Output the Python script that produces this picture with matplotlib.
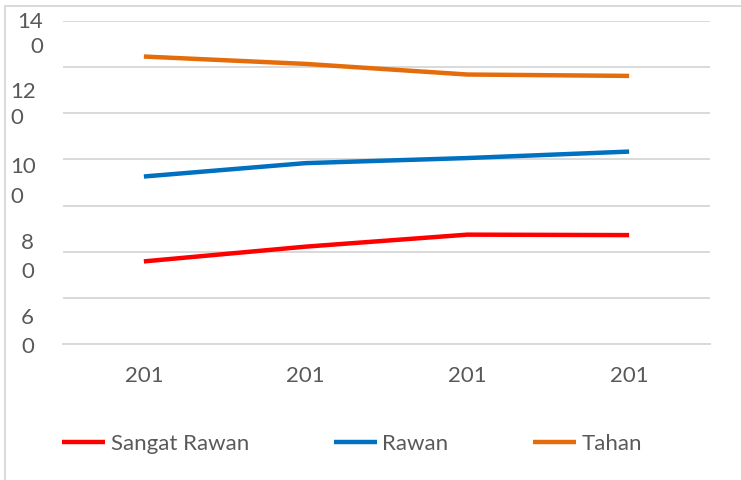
import numpy as np
import matplotlib.pyplot as plt
from matplotlib.lines import Line2D

# data
years = ["201", "201", "201", "201"]
sangat_rawan = [87.9, 91.1, 93.7, 93.6]
rawan = [106.3, 109.2, 110.3, 111.7]
tahan = [132.3, 130.7, 128.4, 128.1]
y_labels = ["14\n0", "12\n0", "10\n0", "8\n0", "6\n0"]

W, H = 741, 480
txt = "#595959"
grid = "#D9D9D9"
fs = 16
plt.rcParams['font.family'] = ['Lato', 'DejaVu Sans']

fig = plt.figure(figsize=(W / 100, H / 100), dpi=100)

def px(x, y):
    return x / W, 1 - y / H

ax = fig.add_axes([63 / W, 1 - 344 / H, (710 - 63) / W, (344 - 21) / H])
x = np.arange(len(years))
ax.plot(x, sangat_rawan, color="#FF0000", lw=3.2, label="Sangat Rawan", solid_capstyle="butt")
ax.plot(x, rawan, color="#0070C0", lw=3.2, label="Rawan", solid_capstyle="butt")
ax.plot(x, tahan, color="#E46C0A", lw=3.2, label="Tahan", solid_capstyle="butt")

ax.set_xlim(-0.5, 3.5)
ax.set_ylim(70, 140)
ax.set_yticks(np.arange(70, 141, 10))
ax.set_yticklabels([])
ax.yaxis.grid(True, color=grid, lw=1.4)
ax.set_axisbelow(True)
for s in ["left", "right", "top"]:
    ax.spines[s].set_visible(False)
ax.spines["bottom"].set_color(grid)
ax.spines["bottom"].set_linewidth(1.4)
ax.tick_params(axis="both", length=0)
ax.set_xticks(x)
ax.set_xticklabels(years, color=txt, fontsize=fs)
ax.tick_params(axis="x", pad=16)

# wrapped y labels (as drawn in the source)
spots = [(43, "right", 22, 47), (10, "left", 92, 118), (10, "left", 167, 197),
         (34, "right", 243, 272), (34, "right", 318, 347)]
for lab, (xx, ha, y1, y2) in zip(y_labels, spots):
    top, bot = lab.split("\n")
    fig.text(*px(xx, y1), top, ha=ha, va="center", color=txt, fontsize=fs)
    fig.text(*px(xx, y2), bot, ha=ha, va="center", color=txt, fontsize=fs)

fig.legend(loc="center left", bbox_to_anchor=px(62, 444), ncol=3, frameon=False,
           borderpad=0, borderaxespad=0, handlelength=1.95, handletextpad=0.25,
           columnspacing=3.8, labelcolor=txt, fontsize=fs)

# light frame on top and left
fig.add_artist(Line2D([5 / W, 1], [1 - 6 / H, 1 - 6 / H], color=grid, lw=1.4))
fig.add_artist(Line2D([5 / W, 5 / W], [0, 1 - 6 / H], color=grid, lw=1.4))

fig.savefig("out.png", dpi=100)
